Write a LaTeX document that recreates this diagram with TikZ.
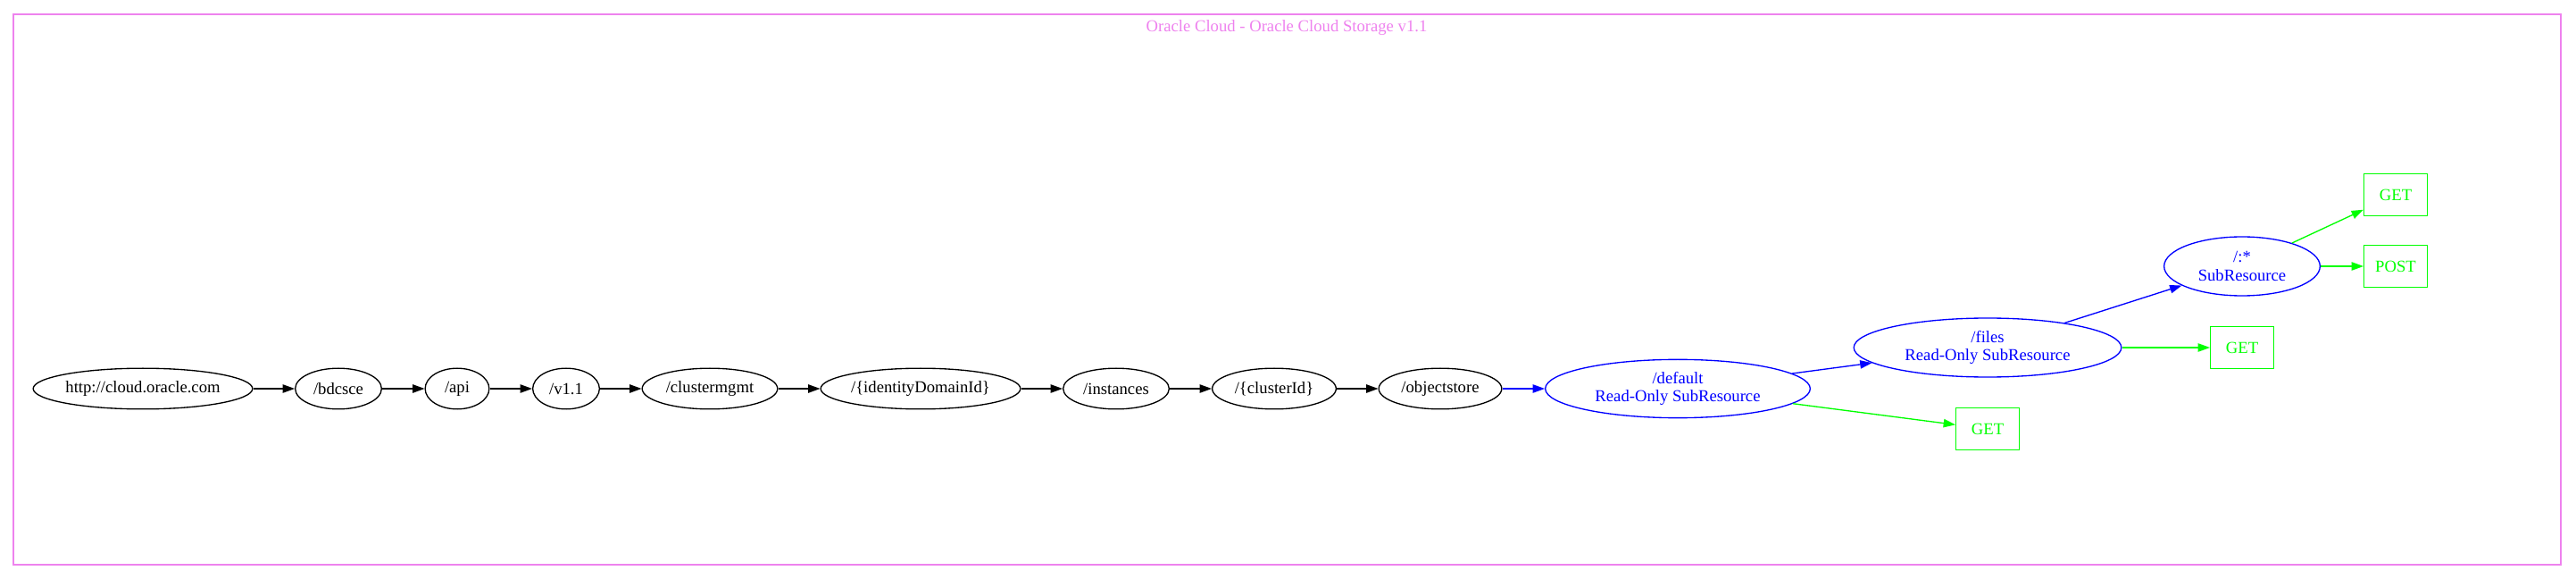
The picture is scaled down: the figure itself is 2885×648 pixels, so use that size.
\documentclass[tikz,border=0pt]{standalone}
\usepackage{fontspec}
\setmainfont{Liberation Serif}
\usetikzlibrary{arrows.meta,shapes.geometric}
\definecolor{gvviolet}{RGB}{238,130,238}
\definecolor{gvblue}{RGB}{0,0,255}
\definecolor{gvgreen}{RGB}{0,255,0}
\tikzset{
  base/.style={inner sep=0pt, line width=1pt, font=\fontsize{14}{15.5}\selectfont, align=center},
  res/.style={base, ellipse, draw=black, text=black, minimum height=34.25pt},
  sub/.style={base, ellipse, draw=gvblue, text=gvblue, minimum height=49.5pt},
  verb/.style={base, rectangle, draw=gvgreen, text=gvgreen, minimum width=53pt, minimum height=35pt},
  edge/.style={line width=1pt, -{Triangle[length=10pt,width=7pt]}},
  blk/.style={edge, draw=black, fill=black},
  blu/.style={edge, draw=gvblue, -{Triangle[length=10pt,width=7pt,fill=gvblue]}},
  grn/.style={edge, draw=gvgreen, -{Triangle[length=10pt,width=7pt,fill=gvgreen]}},
  frame/.style={draw=gvviolet, line width=1pt},
  title/.style={font=\fontsize{14}{16}\selectfont, text=gvviolet, inner sep=0pt}
}
\begin{document}
\begin{tikzpicture}[x=0.75pt, y=-0.75pt]
\useasboundingbox (0,0) rectangle (2885,648);
\draw[frame] (15,16) rectangle (2868,632);
\node[title] (ttl) at (1441,31) {Oracle Cloud - Oracle Cloud Storage v1.1};

\node[res, minimum width=184.25pt] (root) at (160,435) {http://cloud.oracle.com};
\node[res, minimum width=72.5pt] (bdcsce) at (379,435) {/bdcsce};
\node[res, minimum width=53.75pt] (api) at (512,435) {/api};
\node[res, minimum width=56pt] (v11) at (634,435) {/v1.1};
\node[res, minimum width=113.75pt] (cm) at (795,435) {/clustermgmt};
\node[res, minimum width=167.75pt] (idd) at (1031,435) {/\{identityDomainId\}};
\node[res, minimum width=89pt] (inst) at (1250,435) {/instances};
\node[res, minimum width=104pt] (cid) at (1427,435) {/\{clusterId\}};
\node[res, minimum width=103.25pt] (obj) at (1613,435) {/objectstore};

\node[sub, minimum width=222.5pt, minimum height=49pt] (def) at (1879,435) {/default\\Read-Only SubResource};
\node[sub, minimum width=224.75pt] (files) at (2226,389) {/files\\Read-Only SubResource};
\node[sub, minimum width=131pt] (star) at (2511,298) {/:*\\SubResource};

\node[verb] (getdef) at (2226,480) {GET};
\node[verb] (getfiles) at (2511,389) {GET};
\node[verb] (getstar) at (2683,218) {GET};
\node[verb] (poststar) at (2683,298) {POST};

\draw[blk] (root) -- (bdcsce);
\draw[blk] (bdcsce) -- (api);
\draw[blk] (api) -- (v11);
\draw[blk] (v11) -- (cm);
\draw[blk] (cm) -- (idd);
\draw[blk] (idd) -- (inst);
\draw[blk] (inst) -- (cid);
\draw[blk] (cid) -- (obj);
\draw[blu] (obj) -- (def);
\draw[blu] (def) -- (files);
\draw[grn] (def) -- (getdef);
\draw[blu] (files) -- (star);
\draw[grn] (files) -- (getfiles);
\draw[grn] (star) -- (getstar);
\draw[grn] (star) -- (poststar);
\end{tikzpicture}
\end{document}
